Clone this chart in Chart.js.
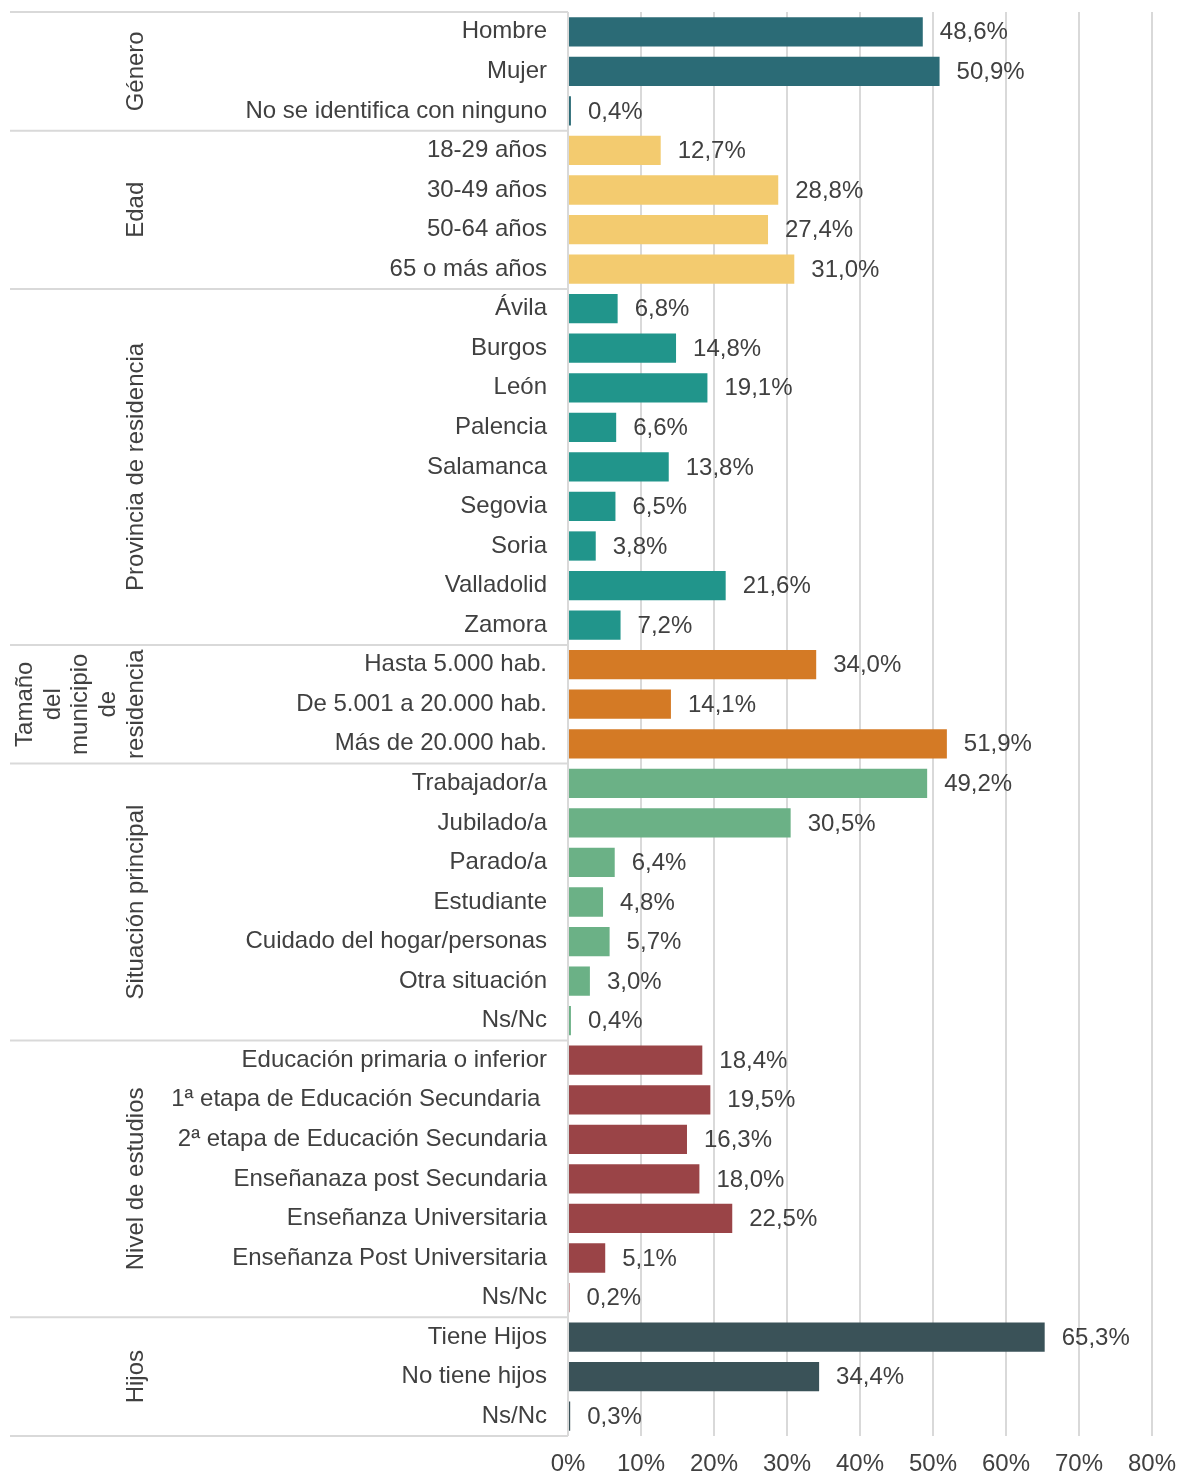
<!DOCTYPE html>
<html>
<head>
<meta charset="utf-8">
<script src="https://cdn.jsdelivr.net/npm/chart.js@4.4.0/dist/chart.umd.min.js"></script>
<style>
  html, body { margin: 0; padding: 0; background: #fff; }
  canvas { display: block; }
</style>
</head>
<body>
<canvas id="perfilChart" width="1179" height="1474"></canvas>
<script>
// Categories and values (% of sample)
const labels = [
    'Hombre', 'Mujer', 'No se identifica con ninguno',
    '18-29 años', '30-49 años', '50-64 años', '65 o más años',
    'Ávila', 'Burgos', 'León', 'Palencia', 'Salamanca', 'Segovia', 'Soria', 'Valladolid', 'Zamora',
    'Hasta 5.000 hab.', 'De 5.001 a 20.000 hab.', 'Más de 20.000 hab.',
    'Trabajador/a', 'Jubilado/a', 'Parado/a', 'Estudiante', 'Cuidado del hogar/personas', 'Otra situación', 'Ns/Nc',
    'Educación primaria o inferior', '1ª etapa de Educación Secundaria ', '2ª etapa de Educación Secundaria',
    'Enseñanaza post Secundaria', 'Enseñanza Universitaria', 'Enseñanza Post Universitaria', 'Ns/Nc',
    'Tiene Hijos', 'No tiene hijos', 'Ns/Nc'
];
const values = [
    48.6, 50.9, 0.4,
    12.7, 28.8, 27.4, 31.0,
    6.8, 14.8, 19.1, 6.6, 13.8, 6.5, 3.8, 21.6, 7.2,
    34.0, 14.1, 51.9,
    49.2, 30.5, 6.4, 4.8, 5.7, 3.0, 0.4,
    18.4, 19.5, 16.3, 18.0, 22.5, 5.1, 0.2,
    65.3, 34.4, 0.3
];
const groupNames = [
    ['Género'],
    ['Edad'],
    ['Provincia de residencia'],
    ['Tamaño', 'del', 'municipio', 'de', 'residencia'],
    ['Situación principal'],
    ['Nivel de estudios'],
    ['Hijos']
];
const groupSizes = [3, 4, 9, 3, 7, 7, 3];
const groupColors = ['#2b6b76', '#f3cb6f', '#21958b', '#d47a25', '#6bb186', '#9a4447', '#3a5258'];
const xTicks = [0, 10, 20, 30, 40, 50, 60, 70, 80];

const FONT = "'Liberation Sans', Arial, sans-serif";
const TEXT = '#404040';
const LINE = '#d9d9d9';

// one colour per bar from its group
const barColors = [];
groupSizes.forEach((n, g) => {
    for (let i = 0; i < n; i++) barColors.push(groupColors[g]);
});

// value labels right of each bar
const valueLabels = {
    id: 'valueLabels',
    afterDatasetsDraw(chart) {
        const ctx = chart.ctx;
        const meta = chart.getDatasetMeta(0);
        ctx.save();
        ctx.font = '24px ' + FONT;
        ctx.fillStyle = TEXT;
        ctx.textAlign = 'left';
        ctx.textBaseline = 'middle';
        meta.data.forEach((bar, i) => {
            const txt = values[i].toFixed(1).replace('.', ',') + '%';
            ctx.fillText(txt, bar.x + 17, bar.y + 1);
        });
        ctx.restore();
    }
};

// group separators and rotated group names on the left
const groupBlocks = {
    id: 'groupBlocks',
    afterDraw(chart) {
        const ctx = chart.ctx;
        const y = chart.scales.y;
        const step = y.getPixelForValue(1) - y.getPixelForValue(0);
        const left = 10;
        const right = chart.chartArea.left;
        ctx.save();
        ctx.strokeStyle = LINE;
        ctx.lineWidth = 2;
        let start = 0;
        const edges = [y.getPixelForValue(0) - step / 2];
        groupSizes.forEach(n => {
            edges.push(y.getPixelForValue(start + n - 1) + step / 2);
            start += n;
        });
        edges.forEach(e => {
            ctx.beginPath();
            ctx.moveTo(left, e);
            ctx.lineTo(right, e);
            ctx.stroke();
        });

        ctx.font = '24px ' + FONT;
        ctx.fillStyle = TEXT;
        ctx.textAlign = 'center';
        ctx.textBaseline = 'middle';
        groupNames.forEach((lines, g) => {
            const cy = (edges[g] + edges[g + 1]) / 2;
            const lastX = 136;
            const gap = 27.7;
            lines.forEach((line, k) => {
                const cx = lastX - (lines.length - 1 - k) * gap;
                ctx.save();
                ctx.translate(cx, cy);
                ctx.rotate(-Math.PI / 2);
                ctx.fillText(line, 0, 0);
                ctx.restore();
            });
        });
        ctx.restore();
    }
};

new Chart(document.getElementById('perfilChart').getContext('2d'), {
    type: 'bar',
    data: {
        labels: labels,
        datasets: [{
            data: values,
            backgroundColor: barColors,
            categoryPercentage: 1,
            barPercentage: 0.74
        }]
    },
    options: {
        indexAxis: 'y',
        responsive: false,
        animation: false,
        layout: { padding: { top: 12, right: 0, left: 0, bottom: 0 } },
        plugins: {
            legend: { display: false },
            tooltip: { enabled: false }
        },
        scales: {
            x: {
                min: 0,
                max: 80,
                afterBuildTicks(scale) {
                    scale.ticks = xTicks.map(v => ({ value: v }));
                },
                afterFit(scale) {
                    scale.height = 38;
                    scale.paddingLeft = 0;
                    scale.paddingRight = 27;
                },
                grid: { color: LINE, lineWidth: 2, drawTicks: false },
                border: { display: false },
                ticks: {
                    padding: 16,
                    color: TEXT,
                    font: { family: FONT, size: 24, lineHeight: 1 },
                    callback: v => v + '%'
                }
            },
            y: {
                grid: { display: false, drawTicks: false },
                border: { display: false },
                afterFit(scale) {
                    scale.width = 568;
                    scale.paddingTop = 0;
                    scale.paddingBottom = 0;
                },
                ticks: {
                    autoSkip: false,
                    padding: 21,
                    color: TEXT,
                    font: { family: FONT, size: 24 }
                }
            }
        }
    },
    plugins: [valueLabels, groupBlocks]
});
</script>
</body>
</html>
